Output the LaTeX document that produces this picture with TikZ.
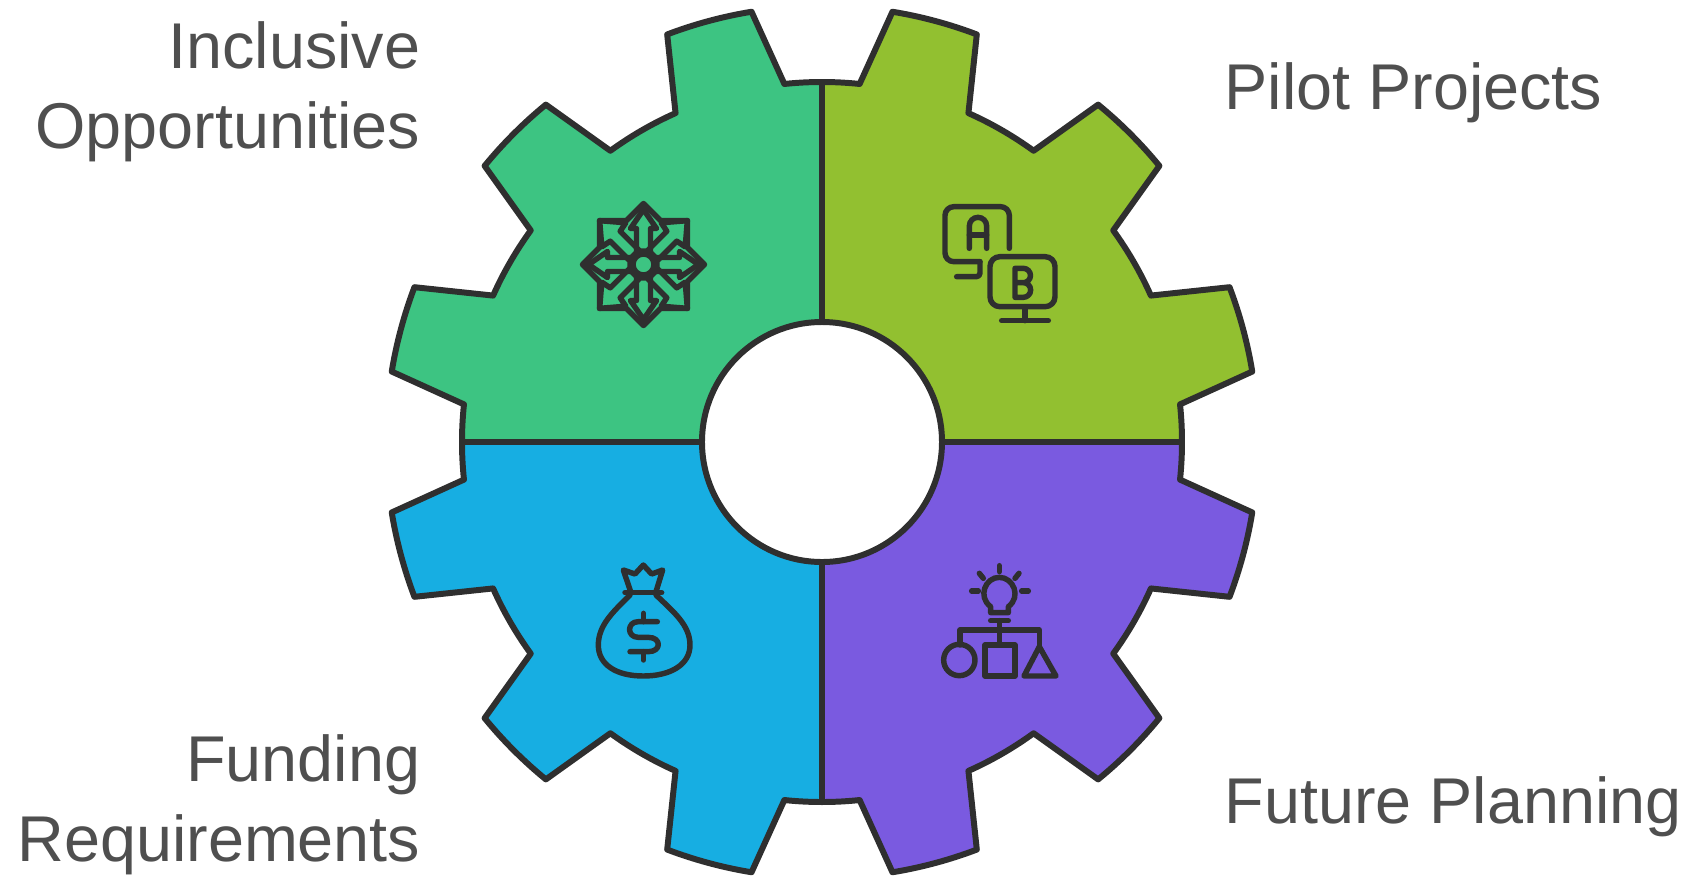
\documentclass[tikz,border=0pt]{standalone}
\usepackage{fontspec}
\setmainfont{Liberation Sans}
\definecolor{inkgray}{HTML}{2F2F2F}
\definecolor{textgray}{HTML}{4F4F4F}
\definecolor{gearGreen}{HTML}{3DC482}
\definecolor{gearOlive}{HTML}{92C030}
\definecolor{gearBlue}{HTML}{17AEE2}
\definecolor{gearPurple}{HTML}{7A5AE0}
\tikzset{
    gearline/.style={draw=inkgray, line width=1.7pt, line join=round},
    iconline/.style={draw=inkgray, line width=1.55pt, line join=round, line cap=round},
    gearlabel/.style={text=textgray, inner sep=0pt, font=\fontsize{18.4pt}{22.5pt}\selectfont}
}
% one quarter of the gear, from the +x axis round to the +y axis
\newcommand{\gearquarter}[2]{%
\begin{scope}[rotate=#2]
\filldraw[gearline, fill=#1] (0:120) -- (0:360) arc (0:6:360) -- (9.3:436) arc (9.3:20.8:436) -- (24:360) arc (24:36:360) -- (39.3:436) arc (39.3:50.7:436) -- (54:360) arc (54:66:360) -- (69.2:436) arc (69.2:80.7:436) -- (84:360) arc (84:90:360) -- (90:120) arc (90:0:120) -- cycle;
\end{scope}}
\begin{document}
\begin{tikzpicture}[x=0.01cm, y=0.01cm]
\useasboundingbox (-822,-433) rectangle (866,442);
\gearquarter{gearOlive}{0}
\gearquarter{gearGreen}{90}
\gearquarter{gearBlue}{180}
\gearquarter{gearPurple}{270}

% star icon
\begin{scope}[shift={(-178.5,177.5)}]
\draw[iconline] (0,61) -- (17,44) -- (44,44) -- (44,17) -- (61,0) -- (44,-17) -- (44,-44) -- (17,-44) -- (0,-61) -- (-17,-44) -- (-44,-44) -- (-44,-17) -- (-61,0) -- (-44,17) -- (-44,44) -- (-17,44) -- cycle;
\foreach \a in {0,90,180,270}
    \draw[iconline, rotate=\a] (-7,13.5) -- (-7,36) -- (-13,36) -- (0,55) -- (13,36) -- (7,36) -- (7,13.5) -- cycle;
\foreach \a in {45,135,225,315}
    \draw[iconline, rotate=\a] (-7,13.5) -- (-7,40) -- (-17,42) -- (0,62) -- (17,42) -- (7,40) -- (7,13.5) -- cycle;
\draw[iconline] (0,0) circle (10.5);
\end{scope}

% A and B screens
\begin{scope}[shift={(98,252)}, xscale=1/3, yscale=-1/3]
\draw[iconline, rounded corners=2.5pt] (268,175) -- (268,50) -- (75,50) -- (75,215) -- (180,215);
\draw[iconline, rounded corners=1pt] (180,215) -- (180,260) -- (110,260);
\draw[iconline, rounded corners=2.8pt] (210,200) rectangle (405,350);
\draw[iconline] (315,350) -- (315,392);
\draw[iconline] (245,392) -- (385,392);
\draw[iconline] (148,175) -- (148,108) arc (180:360:26) -- (200,175);
\draw[iconline] (148,135) -- (200,135);
\draw[iconline] (285,278) -- (310,278) arc (-90:90:22) -- (285,322) -- (285,235) -- (310,235) arc (-90:90:21.5);
\end{scope}

% money bag
\begin{scope}[shift={(-252,-108)}, xscale=1/3, yscale=-1/3]
\draw[iconline] (165,128) -- (275,128);
\draw[iconline] (182,125) -- (160,60) -- (195,72) -- (220,45) -- (245,72) -- (278,60) -- (258,125);
\draw[iconline] (180,135) .. controls (130,185) and (85,225) .. (85,285) .. controls (85,345) and (140,378) .. (220,378) .. controls (300,378) and (360,345) .. (360,285) .. controls (360,225) and (310,185) .. (258,135);
\draw[iconline] (262,215) -- (205,215) .. controls (170,215) and (170,262) .. (205,262) -- (235,262) .. controls (275,262) and (275,305) .. (235,305) -- (180,305);
\draw[iconline] (220,190) -- (220,215);
\draw[iconline] (220,305) -- (220,330);
\end{scope}

% bulb over shapes
\begin{scope}[shift={(98,-108)}, xscale=1/3, yscale=-1/3]
\draw[iconline] (212,188) -- (265,188) -- (265,170) .. controls (305,140) and (280,82) .. (238,82) .. controls (196,82) and (172,140) .. (212,170) -- cycle;
\draw[iconline] (212,212) -- (265,212);
\draw[iconline] (238,212) -- (238,285);
\draw[iconline] (120,285) -- (120,240) -- (358,240) -- (358,290);
\draw[iconline] (118,330) circle (47);
\draw[iconline] (195,285) rectangle (285,378);
\draw[iconline] (358,290) -- (408,378) -- (312,378) -- cycle;
\draw[iconline] (238,47) -- (238,65);
\draw[iconline] (178,70) -- (190,85);
\draw[iconline] (297,70) -- (285,85);
\draw[iconline] (155,123) -- (175,123);
\draw[iconline] (305,123) -- (325,123);
\end{scope}

\node[gearlabel, align=right, anchor=base east] (inclusive) at (-401,294) {Inclusive\\Opportunities};
\node[gearlabel, anchor=base west] (pilot) at (402,333) {Pilot Projects};
\node[gearlabel, align=right, anchor=base east] (funding) at (-401,-419) {Funding\\Requirements};
\node[gearlabel, anchor=base west] (future) at (402,-381) {Future Planning};
\end{tikzpicture}
\end{document}
